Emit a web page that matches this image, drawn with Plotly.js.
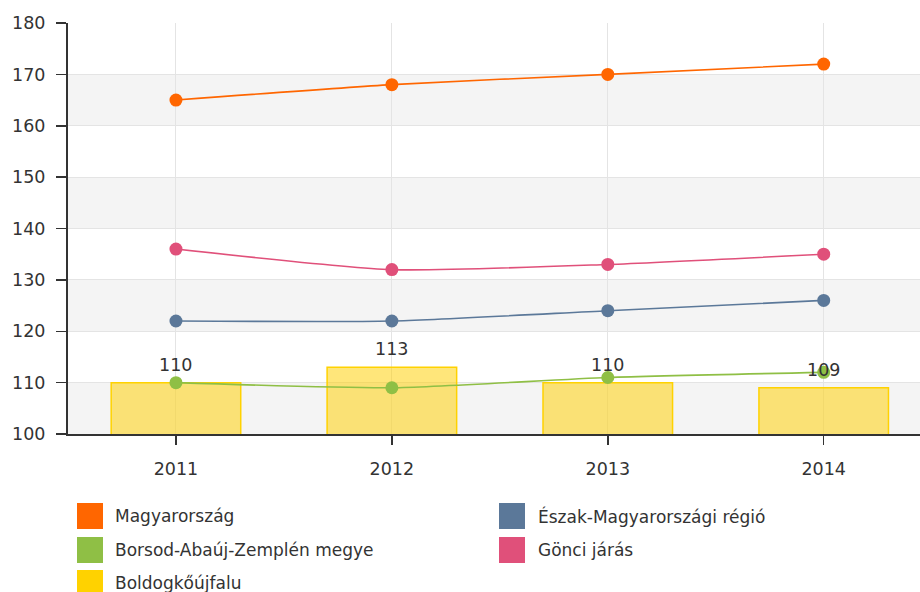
<!DOCTYPE html>
<html>
<head>
<meta charset="utf-8">
<script src="https://cdn.plot.ly/plotly-3.0.1.min.js"></script>
<style>html,body{margin:0;padding:0;background:#fff;}#chart{width:920px;height:592px;}</style>
</head>
<body>
<div id="chart"></div>
<script>
const years = ['2011', '2012', '2013', '2014'];
const magyarorszag = [165, 168, 170, 172];
const eszakMagyar = [122, 122, 124, 126];
const borsod = [110, 109, 111, 112];
const gonci = [136, 132, 133, 135];
const boldogko = [110, 113, 110, 109];
const yTicks = [100, 110, 120, 130, 140, 150, 160, 170, 180];

const names = ['Magyarország', 'Észak-Magyarországi régió', 'Borsod-Abaúj-Zemplén megye', 'Gönci járás', 'Boldogkőújfalu'];
const colors = ['#ff6600', '#5b7899', '#8fbf45', '#e0507a', '#ffd200'];

const FONT = 'DejaVu Sans, Verdana, sans-serif';

const traces = [];
traces.push({
  type: 'bar', x: years, y: boldogko, name: names[4], width: 0.6,
  marker: {color: 'rgba(255,208,0,0.52)', line: {color: colors[4], width: 1.5}},
  showlegend: false, hoverinfo: 'x+y'
});
const lineSeries = [magyarorszag, eszakMagyar, borsod, gonci];
lineSeries.forEach((s, i) => {
  traces.push({
    type: 'scatter', mode: 'lines+markers', x: years, y: s, name: names[i],
    line: {color: colors[i], width: 1.6, shape: 'spline', smoothing: 0.6},
    marker: {color: colors[i], size: 13},
    showlegend: false
  });
});

const shapes = [];
for (let i = 0; i < yTicks.length - 1; i++) {
  if (i % 2 === 0) {
    shapes.push({type: 'rect', xref: 'paper', yref: 'y', x0: 0, x1: 1, y0: yTicks[i], y1: yTicks[i + 1],
      fillcolor: '#f4f4f4', line: {width: 0}, layer: 'below'});
  }
}

// value labels above bars (category index positions)
const annotations = boldogko.map((v, i) => ({
  x: i, y: v, xref: 'x', yref: 'y', text: String(v), showarrow: false,
  yanchor: 'middle', yshift: 18, font: {family: FONT, size: 17.5, color: '#333'}
}));

// custom legend: two columns
const colX = [77, 499];
const colTextX = [113, 536];
const rowY = [516, 550, 583];
const W = 920, H = 592;
const px = v => (v - 68) / 852, py = v => (434 - v) / 411;
names.forEach((nm, idx) => {
  const col = idx % 2, row = Math.floor(idx / 2);
  const x = colX[col], y = rowY[row];
  shapes.push({type: 'rect', xref: 'paper', yref: 'paper',
    x0: px(x), x1: px(x + 26), y0: py(y + 13), y1: py(y - 13),
    fillcolor: colors[idx], line: {width: 0}});
  annotations.push({xref: 'paper', yref: 'paper', x: px(colTextX[col]), y: py(y),
    xanchor: 'left', yanchor: 'middle', showarrow: false, text: nm,
    font: {family: FONT, size: 17, color: '#333'}});
});

const layout = {
  width: W, height: H,
  margin: {l: 68, r: 0, t: 23, b: 158},
  paper_bgcolor: '#fff', plot_bgcolor: 'rgba(0,0,0,0)',
  font: {family: FONT, size: 17.5, color: '#333'},
  showlegend: false,
  xaxis: {
    type: 'category', range: [-0.5, 3.446],
    showgrid: true, gridcolor: '#e4e4e4', gridwidth: 1,
    showline: true, linecolor: '#333', linewidth: 1.5,
    ticks: 'outside', ticklen: 9, tickcolor: '#333', tickwidth: 1.5,
    ticklabelstandoff: 9,
    tickfont: {family: FONT, size: 17.5, color: '#333'},
    zeroline: false, fixedrange: true
  },
  yaxis: {
    range: [100, 180], tickvals: yTicks,
    showgrid: true, gridcolor: '#e4e4e4', gridwidth: 1,
    showline: true, linecolor: '#333', linewidth: 2,
    ticks: 'outside', ticklen: 10, tickcolor: '#333', tickwidth: 1.5,
    ticklabelstandoff: 7,
    tickfont: {family: FONT, size: 17.5, color: '#333'},
    zeroline: false, fixedrange: true
  },
  shapes: shapes,
  annotations: annotations
};

Plotly.newPlot('chart', traces, layout, {displayModeBar: false, staticPlot: true});
</script>
</body>
</html>
